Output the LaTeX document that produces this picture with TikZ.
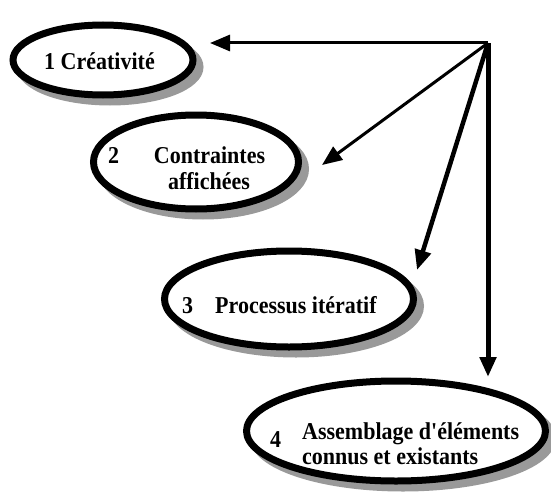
\documentclass[tikz,border=0pt]{standalone}
\usepackage{fontspec}
\setmainfont{Liberation Serif}[Ligatures=TeXOff]
\usetikzlibrary{shapes.geometric,arrows.meta}
\definecolor{shadowgray}{RGB}{153,153,153}
\newcommand{\tallt}[1]{\scalebox{1}[1.1]{#1}}
\begin{document}
\begin{tikzpicture}[x=1pt,y=-1pt,
  bubble/.style={ellipse, draw=black, line width=7pt, fill=white, inner sep=0pt,
    preaction={draw=shadowgray, fill=shadowgray, transform canvas={shift={(7pt,-7pt)}}}},
  lbl/.style={font=\fontsize{22}{25}\selectfont\bfseries, inner sep=0pt, anchor=base west},
  conn/.style={draw=black, -{Triangle[length=20pt,width=16pt]}},
]
\useasboundingbox (0,0) rectangle (551,495);
\node[bubble, minimum width=180pt, minimum height=70pt] (e1) at (103,60) {};
\node[bubble, minimum width=205pt, minimum height=94pt] (e2) at (196,162) {};
\node[bubble, minimum width=249pt, minimum height=96pt] (e3) at (289,299) {};
\node[bubble, minimum width=299pt, minimum height=100pt] (e4) at (396,431) {};
\node[lbl] (t1) at (44,70) {\tallt{1 Créativité}};
\node[lbl] (n2) at (108,163) {\tallt{2}};
\node[lbl, anchor=base] (t2a) at (209.5,163) {\tallt{Contraintes}};
\node[lbl, anchor=base] (t2b) at (209,189) {\tallt{affichées}};
\node[lbl] (n3) at (182,313) {\tallt{3}};
\node[lbl] (t3) at (215,313) {\tallt{Processus itératif}};
\node[lbl] (n4) at (270,447) {\tallt{4}};
\node[lbl] (t4a) at (302,439) {\tallt{Assemblage d'éléments}};
\node[lbl] (t4b) at (302,464) {\tallt{connus et existants}};
\coordinate (hub) at (488,43);
\coordinate (a1) at (210,43);
\coordinate (a2) at (322,165);
\coordinate (a3) at (417,270);
\coordinate (a4) at (488,377);
\draw[conn, line width=3pt] (hub) -- (a1);
\draw[conn, line width=3pt] (hub) -- (a2);
\draw[conn, line width=4.5pt] (hub) -- (a3);
\draw[conn, line width=5pt] (hub) -- (a4);
\end{tikzpicture}
\end{document}
